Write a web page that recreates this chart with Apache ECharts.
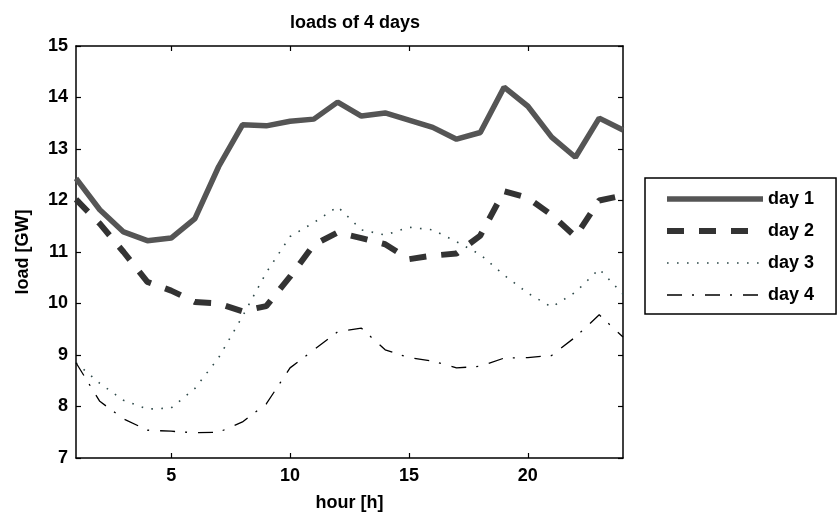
<!DOCTYPE html>
<html>
<head>
<meta charset="utf-8">
<script src="https://cdn.jsdelivr.net/npm/echarts@6/dist/echarts.min.js"></script>
<style>html,body{margin:0;padding:0;background:#fff;}#c{width:840px;height:517px;}</style>
</head>
<body>
<div id="c"></div>
<script>
const hours = [1,2,3,4,5,6,7,8,9,10,11,12,13,14,15,16,17,18,19,20,21,22,23,24];
const day1 = [12.43,11.82,11.39,11.22,11.27,11.65,12.66,13.47,13.45,13.54,13.58,13.91,13.64,13.70,13.56,13.42,13.19,13.32,14.20,13.83,13.23,12.84,13.60,13.37];
const day2 = [12.02,11.55,11.00,10.42,10.25,10.03,10.00,9.85,9.95,10.52,11.14,11.38,11.27,11.15,10.86,10.93,10.97,11.32,12.18,12.05,11.72,11.30,12.00,12.10];
const day3 = [8.85,8.45,8.12,7.95,7.97,8.35,8.95,9.75,10.60,11.30,11.57,11.88,11.43,11.33,11.48,11.43,11.20,10.95,10.55,10.20,9.93,10.22,10.67,10.18];
const day4 = [8.85,8.10,7.76,7.54,7.52,7.49,7.50,7.70,8.05,8.75,9.10,9.45,9.52,9.10,8.95,8.88,8.75,8.78,8.94,8.95,8.99,9.35,9.78,9.35];
const xTicks = [5,10,15,20];
const yTicks = [7,8,9,10,11,12,13,14,15];
const names = ['day 1','day 2','day 3','day 4'];

const FONT = 'Liberation Sans, Arial, sans-serif';
const pair = arr => hours.map((h,i)=>[h,arr[i]]);
const axLine = {show:true, lineStyle:{color:'#000', width:1.5}};
const tick = {show:true, inside:true, length:5, lineStyle:{color:'#000', width:1.2}};
const lbl = {fontFamily:FONT, fontWeight:'bold', fontSize:18, color:'#000'};

const styles = [
  {color:'#555555', width:5.5, type:'solid'},
  {color:'#333333', width:6, type:[17,15]},
  {color:'#2f4a4a', width:1.6, type:[1.6,8.4]},
  {color:'#000000', width:1.3, type:[15,10,2,11]}
];

const chart = echarts.init(document.getElementById('c'), null, {renderer:'canvas'});
chart.setOption({
  animation:false,
  backgroundColor:'#fff',
  title:{text:'loads of 4 days', left:350, top:9, textAlign:'center',
    textStyle:{fontFamily:FONT, fontWeight:'bold', fontSize:18, color:'#000'}},
  grid:{left:76, top:46, right:217, bottom:59, containLabel:false},
  xAxis:[
    {type:'value', min:1, max:24, position:'bottom',
     name:'hour [h]', nameLocation:'middle', nameGap:36, nameTextStyle:lbl,
     axisLine:axLine, splitLine:{show:false},
     axisTick:Object.assign({customValues:xTicks}, tick),
     axisLabel:Object.assign({customValues:xTicks, margin:9}, lbl)},
    {type:'value', min:1, max:24, position:'top',
     axisLine:axLine, splitLine:{show:false},
     axisTick:Object.assign({customValues:xTicks}, tick),
     axisLabel:{show:false}}
  ],
  yAxis:[
    {type:'value', min:7, max:15, position:'left',
     name:'load [GW]', nameLocation:'middle', nameGap:44, nameTextStyle:lbl,
     axisLine:axLine, splitLine:{show:false},
     axisTick:Object.assign({customValues:yTicks}, tick),
     axisLabel:Object.assign({customValues:yTicks, margin:8}, lbl)},
    {type:'value', min:7, max:15, position:'right',
     axisLine:axLine, splitLine:{show:false},
     axisTick:Object.assign({customValues:yTicks}, tick),
     axisLabel:{show:false}}
  ],
  legend:{
    orient:'vertical', left:645, top:178,
    padding:[12,22,10,19], itemGap:14, itemWidth:96, itemHeight:18,
    borderColor:'#000', borderWidth:1.5, backgroundColor:'#fff',
    itemStyle:{opacity:0},
    data:names.map((n,i)=>({name:n, itemStyle:{opacity:0}, lineStyle:Object.assign({opacity:1}, styles[i])})),
    textStyle:{fontFamily:FONT, fontWeight:'bold', fontSize:18, color:'#000'}
  },
  series:names.map((n,i)=>({
    name:n, type:'line', data:pair([day1,day2,day3,day4][i]), symbol:'none', showSymbol:false,
    lineStyle:styles[i], itemStyle:{color:styles[i].color}
  }))
});
</script>
</body>
</html>
